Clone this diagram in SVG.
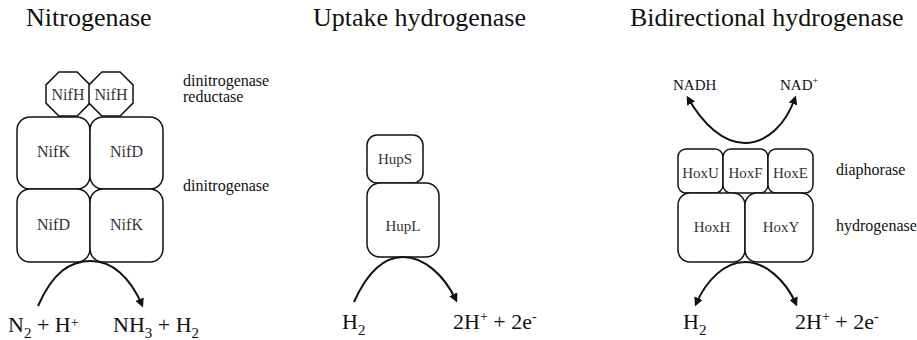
<svg xmlns="http://www.w3.org/2000/svg" width="917" height="340" viewBox="0 0 917 340" font-family="'Liberation Serif', 'Times New Roman', serif">
<style>
text{font-family:'Liberation Serif','Times New Roman',serif;fill:#111}
.title{font-size:26px}
.lbl{font-size:16px}
.box{fill:#fff;stroke:#111;stroke-width:1.5}
.bl{font-size:15px;text-anchor:middle;fill:#333}
.eq{font-size:22px}
.arr{fill:none;stroke:#111;stroke-width:2}
</style>
<defs>
<marker id="ah" viewBox="0 0 10 10" refX="7" refY="5" markerWidth="9" markerHeight="9" markerUnits="userSpaceOnUse" orient="auto-start-reverse">
<path d="M0,0 L10,5 L0,10 z" fill="#111"/>
</marker>
</defs>
<rect width="917" height="340" fill="#fff"/>

<g id="titles">
<text class="title" x="26" y="26">Nitrogenase</text>
<text class="title" x="313" y="26">Uptake hydrogenase</text>
<text class="title" x="630" y="26">Bidirectional hydrogenase</text>
</g>

<g id="nitrogenase">
<g id="nifH1"><polygon class="box" points="58.9,72 77.1,72 90,84.9 90,103.1 77.1,116 58.9,116 46,103.1 46,84.9"/><text class="bl" style="font-size:16px" x="68" y="100">NifH</text></g>
<g id="nifH2"><polygon class="box" points="101.9,72 120.1,72 133,84.9 133,103.1 120.1,116 101.9,116 89,103.1 89,84.9"/><text class="bl" style="font-size:16px" x="111" y="100">NifH</text></g>
<g id="nifK1"><rect class="box" x="17" y="117" width="73" height="72" rx="13"/><text class="bl" style="font-size:16px" x="53.5" y="157">NifK</text></g>
<g id="nifD1"><rect class="box" x="90" y="117" width="73" height="72" rx="13"/><text class="bl" style="font-size:16px" x="126.5" y="157">NifD</text></g>
<g id="nifD2"><rect class="box" x="17" y="189" width="73" height="73" rx="13"/><text class="bl" style="font-size:16px" x="53.5" y="230">NifD</text></g>
<g id="nifK2"><rect class="box" x="90" y="189" width="73" height="73" rx="13"/><text class="bl" style="font-size:16px" x="126.5" y="230">NifK</text></g>
<text class="lbl" x="183" y="86">dinitrogenase</text>
<text class="lbl" x="183" y="102">reductase</text>
<text class="lbl" x="183" y="191">dinitrogenase</text>
<text class="eq" x="8" y="332">N<tspan font-size="15" dy="6">2</tspan><tspan dy="-6"> + H</tspan><tspan font-size="14" dy="-5">+</tspan></text>
<text class="eq" x="113" y="332">NH<tspan font-size="15" dy="6">3</tspan><tspan dy="-6"> + H</tspan><tspan font-size="15" dy="6">2</tspan></text>
</g>

<g id="uptake">
<g id="hupS"><rect class="box" x="367" y="135" width="56" height="48" rx="10"/><text class="bl" x="395" y="164">HupS</text></g>
<g id="hupL"><rect class="box" x="367" y="183" width="72" height="74" rx="13"/><text class="bl" x="403" y="231">HupL</text></g>
<text class="eq" x="342" y="329">H<tspan font-size="15" dy="6">2</tspan></text>
<text class="eq" x="453" y="329">2H<tspan font-size="14" dy="-8">+</tspan><tspan dy="8"> + 2e</tspan><tspan font-size="14" dy="-8">-</tspan></text>
</g>

<g id="bidirectional">
<g id="hoxU"><rect class="box" x="678" y="149" width="45" height="44" rx="8"/><text class="bl" x="700.5" y="178">HoxU</text></g>
<g id="hoxF"><rect class="box" x="723" y="149" width="45" height="44" rx="8"/><text class="bl" x="745.5" y="178">HoxF</text></g>
<g id="hoxE"><rect class="box" x="768" y="149" width="45" height="44" rx="8"/><text class="bl" x="790.5" y="178">HoxE</text></g>
<g id="hoxH"><rect class="box" x="678" y="193" width="67" height="69" rx="12"/><text class="bl" x="712" y="232">HoxH</text></g>
<g id="hoxY"><rect class="box" x="745" y="193" width="68" height="69" rx="12"/><text class="bl" x="781" y="232">HoxY</text></g>
<text class="lbl" x="836" y="175">diaphorase</text>
<text class="lbl" x="836" y="231">hydrogenase</text>
<text style="font-size:15px" x="673" y="90">NADH</text>
<text style="font-size:15px" x="780" y="90">NAD<tspan font-size="10" dy="-6">+</tspan></text>
<text class="eq" x="683" y="329">H<tspan font-size="15" dy="6">2</tspan></text>
<text class="eq" x="795" y="329">2H<tspan font-size="14" dy="-8">+</tspan><tspan dy="8"> + 2e</tspan><tspan font-size="14" dy="-8">-</tspan></text>
</g>

<g id="connectors">
<path class="arr" d="M38,306 C53,272 70,261 91,261 C112,261 130,277 142,305" marker-end="url(#ah)"/>
<path class="arr" d="M354,302 C367,273 384,257 403,257 C424,257 444,275 456,300" marker-end="url(#ah)"/>
<path class="arr" d="M688,98 C703,124 723,143 745,143 C767,143 786,124 795,98" marker-start="url(#ah)" marker-end="url(#ah)"/>
<path class="arr" d="M745,262 C724,262 706,281 696,304" marker-end="url(#ah)"/>
<path class="arr" d="M745,262 C766,262 786,281 796,304" marker-end="url(#ah)"/>
</g>
</svg>
